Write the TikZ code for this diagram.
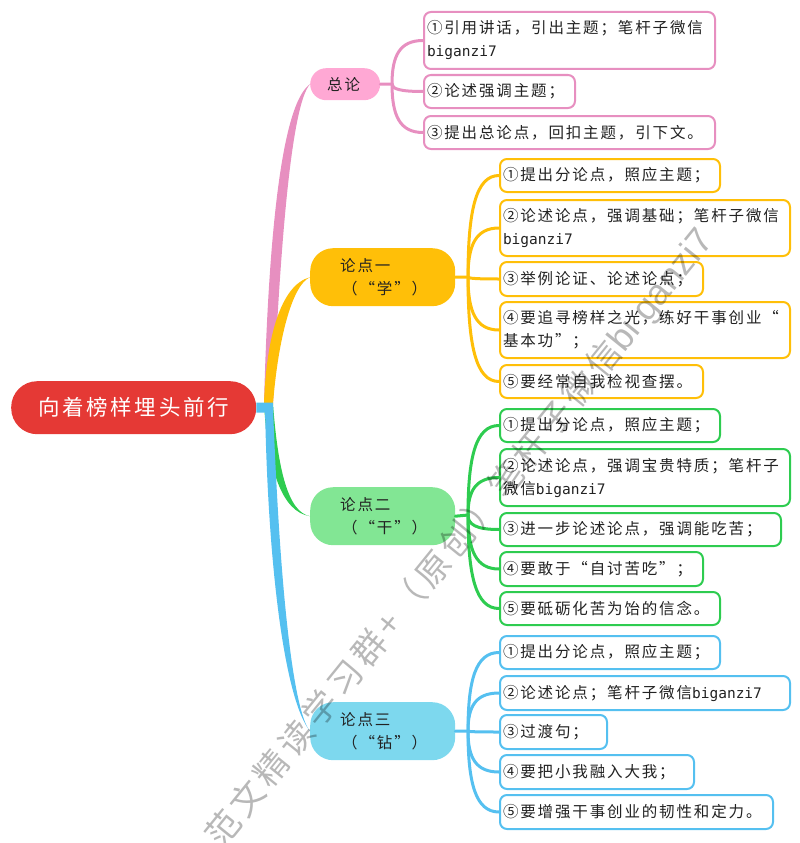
\documentclass[tikz,border=0pt]{standalone}
\usepackage{fontspec}
\usetikzlibrary{calc}
\setmainfont{Noto Sans CJK SC}[LetterSpace=12]
\newfontfamily\latn{DejaVu Sans Mono}
\newfontfamily\wmfont{Noto Sans CJK SC}[LetterSpace=14]
\newfontfamily\wmlatn{Liberation Sans}
\newcommand{\lt}[1]{{\latn\fontsize{14.5}{23}\selectfont #1}}
\definecolor{cpink}{HTML}{E78FC0}\definecolor{fpink}{HTML}{FFA8D4}
\definecolor{cyel}{HTML}{FFBF08}\definecolor{cgrn}{HTML}{2ECC50}
\definecolor{fgrn}{HTML}{82E694}\definecolor{cblu}{HTML}{55C0F0}
\definecolor{fblu}{HTML}{7DD8EE}\definecolor{cred}{HTML}{E53935}
\definecolor{ink}{HTML}{222222}
\tikzset{
 x=1pt,y=-1pt,
 base/.style={anchor=north west,inner ysep=0pt,inner xsep=3pt,align=left,text=ink,
   font=\fontsize{15.5}{23}\selectfont},
 leafbox/.style={base,draw=#1,line width=2pt,fill=white,rounded corners=7pt},
 pill/.style={base,fill=#1,rounded corners=23pt},
 link/.style={draw=#1,line width=3pt,line cap=round},
}
\newcommand{\bx}[7]{\node[#6,minimum width=#4pt,minimum height=#5pt,text width=\dimexpr#4pt-6pt\relax] (#1) at (#2,#3) {#7};}
\newcommand{\lnk}[3]{\draw[link=#1] (#2) .. controls ($(#2)!0.65!(#2 |- #3.west)$) and ($(#3.west)!0.75!(#2 |- #3.west)$) .. (#3.west);}
\begin{document}
\begin{tikzpicture}
\useasboundingbox (0,0) rectangle (800,843);
% root
\node[base,fill=cred,rounded corners=26pt,anchor=north west,minimum width=245pt,minimum height=53pt,inner xsep=0pt,align=center,text=white,font=\fontsize{21.5}{26}\selectfont,text width=245pt] (root) at (11,381) {向着榜样埋头前行};
% pills
\bx{p0}{310}{68}{70}{32}{pill=fpink,rounded corners=16pt}{\hspace*{14pt}总论}
\bx{p1}{310}{248}{145}{58}{pill=cyel,inner xsep=0pt}{\hspace*{27pt}论点一\\\hspace*{29pt}^^^^ff08“学”^^^^ff09}
\bx{p2}{310}{487}{145}{58}{pill=fgrn,inner xsep=0pt}{\hspace*{27pt}论点二\\\hspace*{29pt}^^^^ff08“干”^^^^ff09}
\bx{p3}{310}{702}{145}{58}{pill=fblu,inner xsep=0pt}{\hspace*{27pt}论点三\\\hspace*{29pt}^^^^ff08“钻”^^^^ff09}
% main branches
\coordinate (tr) at (264,404);
\coordinate (hm) at (273,404);
\fill[cpink] (tr) .. controls (268,250) and (280,105) .. (p0.west) .. controls (291,105) and (280,250) .. (hm) -- cycle;
\fill[cyel] (tr) .. controls (266,340) and (280,285) .. (p1.west) .. controls (292,285) and (278,340) .. (hm) -- cycle;
\fill[cgrn] (hm) .. controls (278,470) and (288,512) .. (p2.west) .. controls (282,512) and (268,470) .. (tr) -- cycle;
\fill[cblu] (265,407) .. controls (268,570) and (285,700) .. (p3.west) .. controls (296,715) and (281,620) .. (273,407) -- cycle;
\draw[cblu,line width=10pt] (root.east) -- (273,407.5);
% hubs
\coordinate (h0) at (392,84);
\coordinate (h1) at (468,277);
\coordinate (h2) at (468,515);
\coordinate (h3) at (468,731);
\draw[link=cpink] (p0.east) -- (h0);
\draw[link=cyel] (p1.east) -- (h1);
\draw[link=cgrn] (p2.east) -- (h2);
\draw[link=cblu] (p3.east) -- (h3);
% leaves: pink
\bx{a1}{423}{11}{291}{57}{leafbox=cpink}{①引用讲话^^^^ff0c引出主题^^^^ff1b笔杆子微信\\\lt{biganzi7}}
\bx{a2}{423}{74}{151}{33}{leafbox=cpink}{②论述强调主题^^^^ff1b}
\bx{a3}{423}{115}{291}{33}{leafbox=cpink}{③提出总论点^^^^ff0c回扣主题^^^^ff0c引下文。}
% yellow
\bx{b1}{499}{158}{220}{33}{leafbox=cyel}{①提出分论点^^^^ff0c照应主题^^^^ff1b}
\bx{b2}{499}{199}{290}{56}{leafbox=cyel}{②论述论点^^^^ff0c强调基础^^^^ff1b笔杆子微信\\\lt{biganzi7}}
\bx{b3}{499}{261}{203}{34}{leafbox=cyel}{③举例论证、论述论点^^^^ff1b}
\bx{b4}{499}{301}{290}{56}{leafbox=cyel}{④要追寻榜样之光^^^^ff0c练好干事创业“\\基本功”^^^^ff1b}
\bx{b5}{499}{364}{203}{33}{leafbox=cyel}{⑤要经常自我检视查摆。}
% green
\bx{c1}{499}{408}{220}{33}{leafbox=cgrn}{①提出分论点^^^^ff0c照应主题^^^^ff1b}
\bx{c2}{499}{448}{290}{57}{leafbox=cgrn}{②论述论点^^^^ff0c强调宝贵特质^^^^ff1b笔杆子\\微信\lt{biganzi7}}
\bx{c3}{499}{512}{281}{33}{leafbox=cgrn}{③进一步论述论点^^^^ff0c强调能吃苦^^^^ff1b}
\bx{c4}{499}{551}{203}{34}{leafbox=cgrn}{④要敢于“自讨苦吃”^^^^ff1b}
\bx{c5}{499}{591}{220}{33}{leafbox=cgrn}{⑤要砥砺化苦为饴的信念。}
% blue
\bx{d1}{499}{635}{220}{33}{leafbox=cblu}{①提出分论点^^^^ff0c照应主题^^^^ff1b}
\bx{d2}{499}{675}{290}{34}{leafbox=cblu}{②论述论点^^^^ff1b笔杆子微信\lt{biganzi7}}
\bx{d3}{499}{714}{107}{34}{leafbox=cblu}{③过渡句^^^^ff1b}
\bx{d4}{499}{754}{194}{34}{leafbox=cblu}{④要把小我融入大我^^^^ff1b}
\bx{d5}{499}{794}{273}{34}{leafbox=cblu}{⑤要增强干事创业的韧性和定力。}
% curves
\foreach \n in {a1,a2,a3}{\lnk{cpink}{h0}{\n}}
\foreach \n in {b1,b2,b3,b4,b5}{\lnk{cyel}{h1}{\n}}
\foreach \n in {c1,c2,c3,c4,c5}{\lnk{cgrn}{h2}{\n}}
\foreach \n in {d1,d2,d3,d4,d5}{\lnk{cblu}{h3}{\n}}
% watermark
\node[anchor=base west,rotate=51,text=black,text opacity=0.28,inner sep=0pt,font=\wmfont\fontsize{34}{34}\selectfont] (wm) at (222,850) {范文精读学习群+^^^^ff08原创^^^^ff09笔杆子微信{\wmlatn\fontsize{36}{36}\selectfont bi ganzi7}};
\end{tikzpicture}
\end{document}
